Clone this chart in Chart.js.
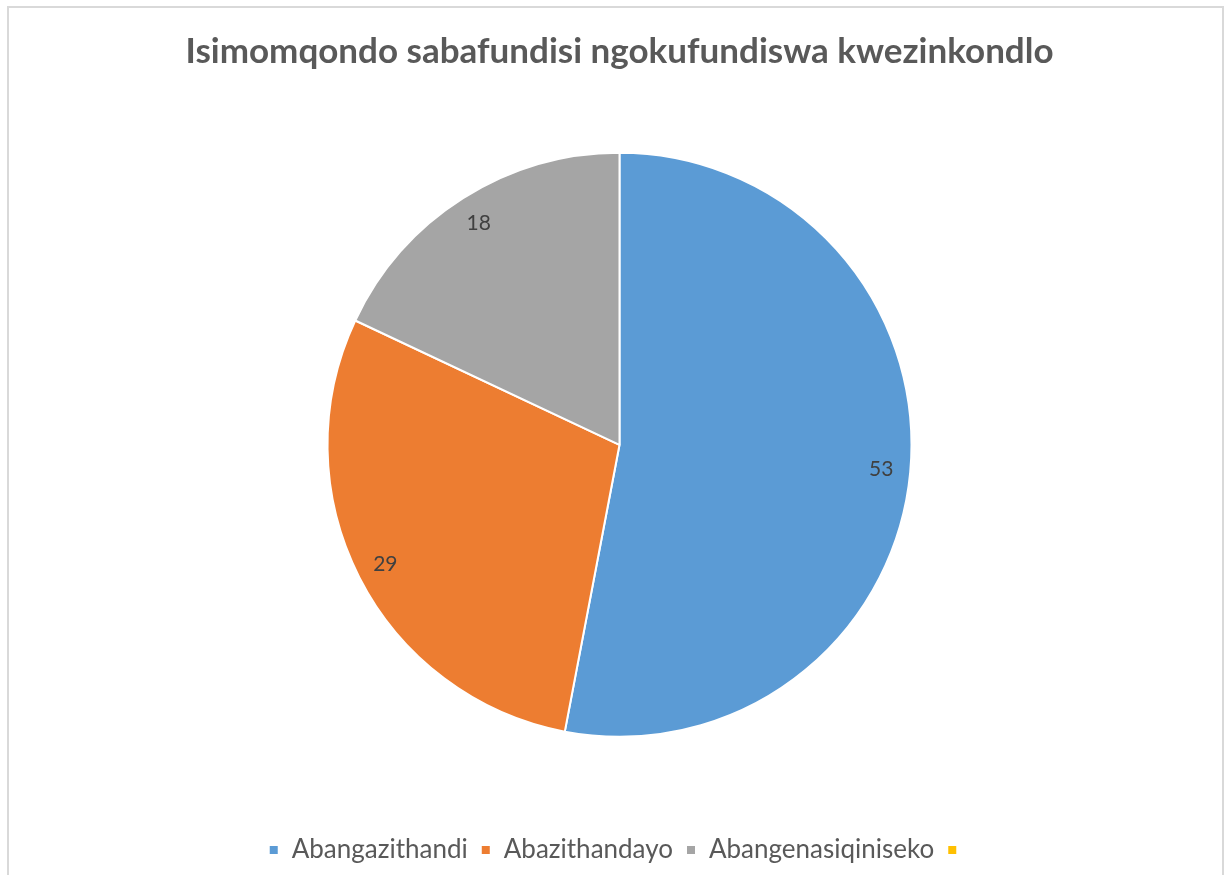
<!DOCTYPE html>
<html>
<head>
<meta charset="utf-8">
<script src="https://cdn.jsdelivr.net/npm/chart.js@4"></script>
<style>
  html, body { margin: 0; padding: 0; background: #fff; overflow: hidden; }
  #wrap { position: relative; width: 1227px; height: 875px; }
  #frame { position: absolute; left: 7px; top: 6px; width: 1217px; height: 900px; border: 2px solid #d9d9d9; box-sizing: border-box; }
  canvas { position: absolute; left: 0; top: 0; }
</style>
</head>
<body>
<div id="wrap">
  <div id="frame"></div>
  <canvas id="pieChart" width="1227" height="875"></canvas>
</div>
<script>
const chartTitle = 'Isimomqondo sabafundisi ngokufundiswa kwezinkondlo';
const categories = ['Abangazithandi', 'Abazithandayo', 'Abangenasiqiniseko', ''];
const values = [53, 29, 18, 0];
const sliceColors = ['#5B9BD5', '#ED7D31', '#A5A5A5', '#FFC000'];

// value labels inside each slice, near the outer edge
const sliceLabels = {
    id: 'sliceLabels',
    afterDatasetsDraw(chart) {
        const ctx = chart.ctx;
        const meta = chart.getDatasetMeta(0);
        ctx.save();
        ctx.font = '21px Lato, "Open Sans", sans-serif';
        ctx.fillStyle = '#404040';
        ctx.textAlign = 'center';
        ctx.textBaseline = 'middle';
        meta.data.forEach((arc, i) => {
            const v = chart.data.datasets[0].data[i];
            if (!v) return;
            const p = arc.getProps(['x', 'y', 'startAngle', 'endAngle', 'outerRadius'], true);
            const mid = (p.startAngle + p.endAngle) / 2;
            const r = p.outerRadius * 0.9;
            ctx.fillText(String(v), p.x + Math.cos(mid) * r, p.y + Math.sin(mid) * r);
        });
        ctx.restore();
    }
};

new Chart(document.getElementById('pieChart'), {
    type: 'pie',
    data: {
        labels: categories,
        datasets: [{
            data: values,
            backgroundColor: sliceColors,
            borderColor: '#ffffff',
            borderWidth: 2,
            radius: 292
        }]
    },
    options: {
        responsive: false,
        animation: false,
        layout: { padding: { left: 12, right: 0, top: 0, bottom: 2 } },
        plugins: {
            title: {
                display: true,
                text: chartTitle,
                color: '#595959',
                font: { family: 'Lato, "Open Sans", sans-serif', size: 35, weight: 'bold' },
                padding: { top: 31, bottom: 7 }
            },
            legend: {
                position: 'bottom',
                title: { display: true, text: '', padding: 6, font: { size: 2 } },
                labels: {
                    color: '#595959',
                    boxWidth: 10,
                    boxHeight: 10,
                    padding: 13,
                    font: { family: 'Lato, "Open Sans", sans-serif', size: 26 }
                }
            },
            tooltip: { enabled: false }
        }
    },
    plugins: [sliceLabels]
});
</script>
</body>
</html>
